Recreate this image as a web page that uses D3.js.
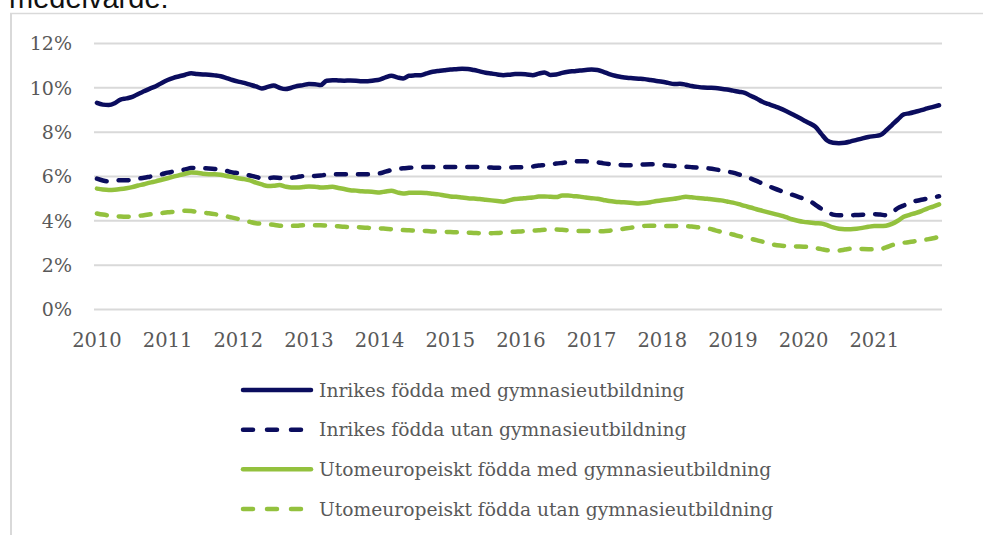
<!DOCTYPE html>
<html>
<head>
<meta charset="utf-8">
<script src="https://cdn.jsdelivr.net/npm/d3@7"></script>
<style>
  html, body { margin: 0; padding: 0; background: #fff; }
  svg { display: block; }
  .serif { font-family: Georgia, "DejaVu Serif", serif; }
</style>
</head>
<body>
<svg id="chart" width="983" height="535"></svg>
<script>
// ---- Data (monthly, Jan 2010 – Dec 2021), percent ----
const years = [2010, 2011, 2012, 2013, 2014, 2015, 2016, 2017, 2018, 2019, 2020, 2021];
const yTicks = [0, 2, 4, 6, 8, 10, 12];
const seriesNames = [
  "Inrikes födda med gymnasieutbildning",
  "Inrikes födda utan gymnasieutbildning",
  "Utomeuropeiskt födda med gymnasieutbildning",
  "Utomeuropeiskt födda utan gymnasieutbildning"
];
const inrikesMed = [
  9.30, 9.22, 9.20, 9.28, 9.45, 9.50, 9.57, 9.70, 9.82, 9.94, 10.05, 10.20,
  10.33, 10.43, 10.50, 10.57, 10.63, 10.60, 10.58, 10.57, 10.54, 10.50, 10.42, 10.33,
  10.26, 10.20, 10.12, 10.04, 9.95, 10.02, 10.08, 9.98, 9.92, 9.98, 10.06, 10.10,
  10.15, 10.14, 10.10, 10.30, 10.32, 10.31, 10.30, 10.31, 10.30, 10.28, 10.28, 10.31,
  10.35, 10.45, 10.52, 10.45, 10.40, 10.52, 10.54, 10.55, 10.63, 10.70, 10.74, 10.77,
  10.80, 10.82, 10.84, 10.83, 10.78, 10.72, 10.66, 10.62, 10.58, 10.55, 10.57, 10.60,
  10.60, 10.58, 10.55, 10.62, 10.67, 10.56, 10.58, 10.65, 10.70, 10.73, 10.76, 10.78,
  10.80, 10.78, 10.70, 10.60, 10.52, 10.47, 10.43, 10.41, 10.39, 10.37, 10.33, 10.29,
  10.25, 10.20, 10.15, 10.16, 10.12, 10.06, 10.02, 9.99, 9.98, 9.97, 9.94, 9.90,
  9.85, 9.80, 9.75, 9.62, 9.50, 9.35, 9.25, 9.15, 9.05, 8.93, 8.80, 8.66,
  8.52, 8.38, 8.22, 7.90, 7.60, 7.50, 7.48, 7.50, 7.56, 7.63, 7.70, 7.76,
  7.80, 7.84, 8.05, 8.30, 8.55, 8.78, 8.83, 8.90, 8.97, 9.05, 9.12, 9.19
];
const inrikesUtan = [
  5.88, 5.80, 5.76, 5.78, 5.81, 5.81, 5.83, 5.88, 5.92, 5.97, 6.02, 6.08,
  6.15, 6.20, 6.25, 6.30, 6.36, 6.37, 6.35, 6.34, 6.32, 6.28, 6.23, 6.16,
  6.13, 6.08, 6.02, 5.96, 5.90, 5.90, 5.93, 5.91, 5.89, 5.92, 5.95, 6.00,
  6.03, 6.00, 6.02, 6.06, 6.08, 6.08, 6.08, 6.08, 6.08, 6.08, 6.08, 6.10,
  6.12, 6.20, 6.27, 6.32, 6.35, 6.37, 6.39, 6.41, 6.41, 6.41, 6.41, 6.41,
  6.41, 6.41, 6.41, 6.41, 6.41, 6.40, 6.39, 6.38, 6.37, 6.37, 6.38, 6.39,
  6.39, 6.40, 6.43, 6.47, 6.49, 6.52, 6.56, 6.59, 6.62, 6.65, 6.67, 6.66,
  6.65, 6.62, 6.57, 6.54, 6.52, 6.50, 6.49, 6.49, 6.50, 6.52, 6.53, 6.52,
  6.50, 6.47, 6.45, 6.44, 6.42, 6.40, 6.38, 6.36, 6.34, 6.30, 6.25, 6.20,
  6.15, 6.07, 5.98, 5.89, 5.78, 5.66, 5.55, 5.44, 5.34, 5.25, 5.16, 5.07,
  4.98, 4.88, 4.70, 4.52, 4.38, 4.26, 4.23, 4.23, 4.23, 4.24, 4.25, 4.27,
  4.28, 4.26, 4.23, 4.35, 4.55, 4.67, 4.80, 4.87, 4.93, 4.98, 5.03, 5.09
];
const utomMed = [
  5.43, 5.39, 5.37, 5.38, 5.41, 5.45, 5.50, 5.57, 5.63, 5.70, 5.76, 5.83,
  5.90, 5.97, 6.04, 6.10, 6.16, 6.15, 6.10, 6.08, 6.08, 6.06, 6.00, 5.96,
  5.90, 5.86, 5.80, 5.70, 5.62, 5.55, 5.56, 5.59, 5.52, 5.48, 5.48, 5.50,
  5.53, 5.52, 5.48, 5.49, 5.51, 5.46, 5.41, 5.36, 5.34, 5.31, 5.30, 5.28,
  5.26, 5.30, 5.33, 5.26, 5.21, 5.24, 5.25, 5.25, 5.23, 5.20, 5.17, 5.12,
  5.08, 5.06, 5.03, 5.00, 4.98, 4.96, 4.93, 4.90, 4.87, 4.84, 4.90, 4.96,
  4.98, 5.01, 5.03, 5.07, 5.08, 5.06, 5.05, 5.12, 5.12, 5.09, 5.07, 5.03,
  5.00, 4.97, 4.92, 4.87, 4.84, 4.82, 4.80, 4.78, 4.76, 4.78, 4.82, 4.87,
  4.91, 4.94, 4.97, 5.02, 5.06, 5.04, 5.01, 4.99, 4.96, 4.93, 4.90, 4.85,
  4.80, 4.73, 4.65, 4.58, 4.50, 4.43, 4.36, 4.29, 4.22, 4.14, 4.05, 3.98,
  3.93, 3.90, 3.87, 3.86, 3.78, 3.68, 3.62, 3.60, 3.60, 3.62, 3.66, 3.71,
  3.74, 3.74, 3.76, 3.84, 3.98, 4.16, 4.25, 4.33, 4.42, 4.53, 4.62, 4.72
];
const utomUtan = [
  4.31, 4.26, 4.22, 4.19, 4.17, 4.16, 4.17, 4.20, 4.23, 4.27, 4.30, 4.33,
  4.36, 4.38, 4.40, 4.43, 4.42, 4.38, 4.35, 4.32, 4.28, 4.23, 4.18, 4.12,
  4.06, 4.00, 3.93, 3.87, 3.85, 3.83, 3.80, 3.76, 3.74, 3.75, 3.76, 3.78,
  3.78, 3.78, 3.78, 3.76, 3.75, 3.73, 3.71, 3.70, 3.69, 3.68, 3.66, 3.65,
  3.64, 3.62, 3.60, 3.58, 3.56, 3.55, 3.54, 3.53, 3.52, 3.50, 3.49, 3.48,
  3.47, 3.46, 3.45, 3.44, 3.43, 3.42, 3.41, 3.42, 3.43, 3.45, 3.47, 3.49,
  3.50, 3.52, 3.54, 3.55, 3.57, 3.58, 3.59, 3.57, 3.55, 3.53, 3.52, 3.52,
  3.52, 3.51, 3.51, 3.53, 3.57, 3.60, 3.64, 3.68, 3.72, 3.75, 3.76, 3.75,
  3.75, 3.75, 3.75, 3.75, 3.74, 3.72, 3.69, 3.66, 3.62, 3.55, 3.48, 3.42,
  3.36, 3.29, 3.23, 3.17, 3.11, 3.04, 2.97, 2.90, 2.86, 2.84, 2.83, 2.82,
  2.81, 2.79, 2.75, 2.70, 2.65, 2.63, 2.64, 2.68, 2.72, 2.72, 2.71, 2.70,
  2.69, 2.70, 2.78, 2.88, 2.95, 2.99, 3.02, 3.06, 3.10, 3.14, 3.19, 3.26
];

// ---- Build ----
const months = years.flatMap(y => d3.range(12).map(m => `${y}-${String(m + 1).padStart(2, "0")}`));
const seriesValues = [inrikesMed, inrikesUtan, utomMed, utomUtan];
const seriesColor = ["#0b0d5e", "#0b0d5e", "#93c13e", "#93c13e"];
const seriesDash = [null, "10 12", null, "10 12"];

const svg = d3.select("#chart");
const W = 983, H = 535;

// Cropped heading above frame (as in reference)
svg.append("text")
  .attr("x", 9).attr("y", 8)
  .attr("font-family", "'Liberation Sans', Arial, sans-serif")
  .attr("font-size", 29)
  .attr("fill", "#111")
  .text("medelvärde:");

// frame (top and left edges)
svg.append("line").attr("x1", 10).attr("x2", W).attr("y1", 13.5).attr("y2", 13.5)
  .attr("stroke", "#d9d9d9").attr("stroke-width", 1.5);
svg.append("line").attr("x1", 11).attr("x2", 11).attr("y1", 13).attr("y2", H)
  .attr("stroke", "#d9d9d9").attr("stroke-width", 2);

const plot = { left: 94, right: 942, top: 43, bottom: 309 };

const x = d3.scaleBand().domain(months).range([plot.left, plot.right]).paddingInner(0).paddingOuter(0);
const cx = m => x(m) + x.bandwidth() / 2;
const y = d3.scaleLinear().domain([0, 12]).range([plot.bottom, plot.top]);

// gridlines + y labels
const yAxis = svg.append("g")
  .attr("transform", `translate(${plot.left},0)`)
  .call(d3.axisLeft(y).tickValues(yTicks).tickSize(-(plot.right - plot.left)).tickPadding(22)
    .tickFormat(d => d + "%"));
yAxis.select(".domain").remove();
yAxis.selectAll(".tick line").attr("stroke", "#d9d9d9").attr("stroke-width", 2);
yAxis.selectAll(".tick text")
  .attr("class", "serif")
  .attr("font-size", 19).attr("fill", "#595959").attr("dy", "0.36em");

// x axis labels
const janMonths = years.map(yr => `${yr}-01`);
const xAxis = svg.append("g")
  .attr("transform", `translate(0,${plot.bottom})`)
  .call(d3.axisBottom(x).tickValues(janMonths).tickSize(0).tickPadding(24)
    .tickFormat(m => m.slice(0, 4)));
xAxis.select(".domain").remove();
xAxis.selectAll(".tick text")
  .attr("class", "serif")
  .attr("font-size", 19.5).attr("fill", "#595959");

// lines
const line = d3.line().x((d, i) => cx(months[i])).y(d => y(d)).curve(d3.curveMonotoneX);
seriesValues.forEach((vals, k) => {
  svg.append("path")
    .datum(vals)
    .attr("fill", "none")
    .attr("stroke", seriesColor[k])
    .attr("stroke-width", 4.5)
    .attr("stroke-linecap", "round")
    .attr("stroke-linejoin", "round")
    .attr("stroke-dasharray", seriesDash[k])
    .attr("d", line);
});

// legend
const legendY = d3.scalePoint().domain(seriesNames).range([390, 509]);
const leg = svg.append("g");
seriesNames.forEach((name, k) => {
  const yy = legendY(name);
  leg.append("line")
    .attr("x1", 243).attr("x2", 311).attr("y1", yy).attr("y2", yy)
    .attr("stroke", seriesColor[k]).attr("stroke-width", 4.5)
    .attr("stroke-linecap", "round")
    .attr("stroke-dasharray", seriesDash[k] ? "10 14" : null);
  leg.append("text")
    .attr("class", "serif")
    .attr("x", 319).attr("y", yy).attr("dy", "0.35em")
    .attr("font-size", 18.7).attr("fill", "#595959")
    .text(name);
});
</script>
</body>
</html>
